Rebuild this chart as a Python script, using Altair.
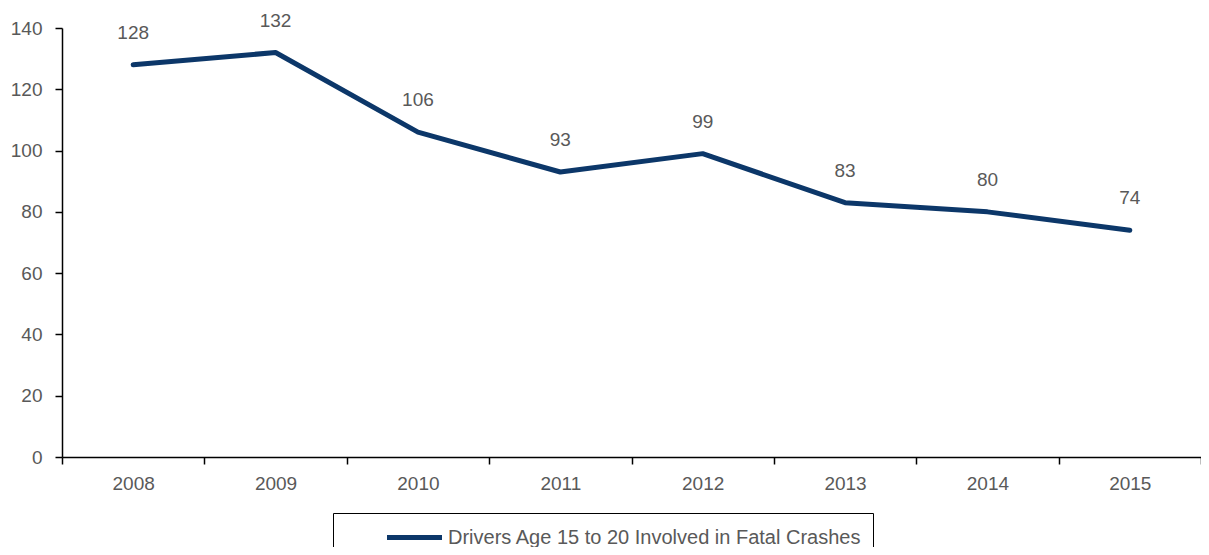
import altair as alt
import pandas as pd

years = ["2008", "2009", "2010", "2011", "2012", "2013", "2014", "2015"]
values = [128, 132, 106, 93, 99, 83, 80, 74]
series = "Drivers Age 15 to 20 Involved in Fatal Crashes"

df = pd.DataFrame({"year": years, "value": values, "series": [series] * len(years)})

FONT = "Liberation Sans"
GRAY = "#595959"
NAVY = "#0c3769"
FS = 19

x = alt.X("year:N", sort=years, title=None,
          scale=alt.Scale(type="band", paddingInner=0, paddingOuter=0),
          axis=alt.Axis(labelAngle=0, tickBand="extent", tickSize=7, tickColor="black",
                        domainColor="black", domainWidth=1.5, tickWidth=1.5,
                        labelFont=FONT, labelFontSize=FS, labelColor=GRAY, labelPadding=10))
y = alt.Y("value:Q", title=None,
          scale=alt.Scale(domain=[0, 140], nice=False),
          axis=alt.Axis(values=list(range(0, 141, 20)), grid=False, tickSize=7, tickColor="black",
                        domainColor="black", domainWidth=1.5, tickWidth=1.5,
                        labelFont=FONT, labelFontSize=FS, labelColor=GRAY, labelPadding=13))

line = alt.Chart(df).mark_line(strokeWidth=5, strokeCap="round", strokeJoin="round").encode(
    x=x, y=y,
    color=alt.Color("series:N", scale=alt.Scale(range=[NAVY]), title=None,
                    legend=alt.Legend(orient="none", legendX=271, legendY=485,
                                      symbolType="M-2.5,0H2.5", symbolStrokeWidth=5, symbolSize=484,
                                      symbolStrokeColor=NAVY, symbolFillColor=NAVY,
                                      symbolOffset=57, strokeColor="black", padding=11,
                                      labelFont=FONT, labelFontSize=20, labelColor=GRAY,
                                      labelLimit=1000, labelOffset=20)),
)

labels = alt.Chart(df).mark_text(baseline="bottom", dy=-22, font=FONT, fontSize=FS, color=GRAY).encode(
    x=alt.X("year:N", sort=years), y="value:Q", text="value:Q"
)

chart = (line + labels).properties(
    width=1139, height=429,
    autosize=alt.AutoSizeParams(type="none"),
    padding={"left": 54, "top": 20, "right": 0, "bottom": 90},
).configure_view(stroke=None)

chart.save("out.html", embed_options={"renderer": "svg", "actions": False})
